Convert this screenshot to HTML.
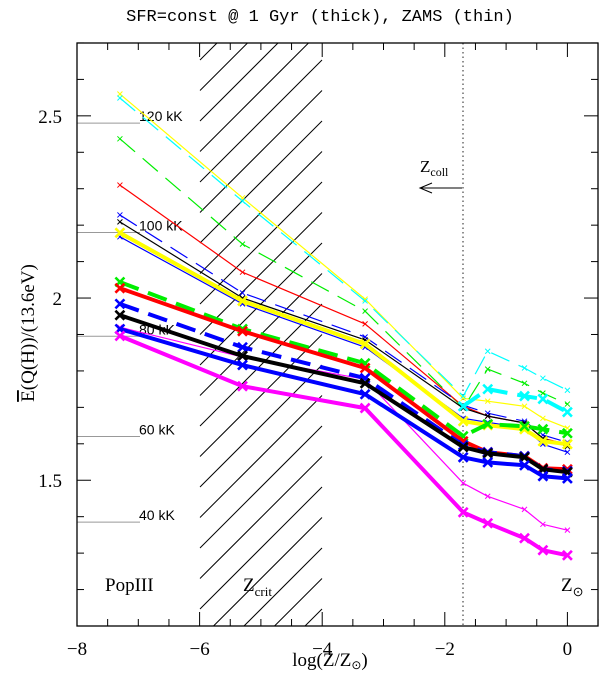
<!DOCTYPE html>
<html><head><meta charset="utf-8"><style>
html,body{margin:0;padding:0;background:#fff;overflow:hidden;width:600px;height:684px;}
svg{display:block;}
text{font-family:"Liberation Serif",serif;}
</style></head><body>
<svg id="chart" width="600" height="684" viewBox="0 0 600 684">
<defs>
<clipPath id="pclip"><rect x="77" y="43" width="521" height="583"/></clipPath>
</defs>
<text x="320" y="21" text-anchor="middle" font-size="17" style="font-family:'Liberation Mono',monospace">SFR=const @ 1 Gyr (thick), ZAMS (thin)</text>
<g id="hatch"></g>
<g id="refs"></g>
<line x1="463" y1="43" x2="463" y2="626" stroke="#555" stroke-width="1.3" stroke-dasharray="1.5,3"/>
<g id="series" clip-path="url(#pclip)"></g>
<rect x="77" y="43" width="521" height="583" fill="none" stroke="#000" stroke-width="1.3"/>
<g id="ticks"></g>
<text x="420" y="172" font-size="17">Z<tspan font-size="12" dy="4">coll</tspan></text>
<g><line x1="462" y1="188" x2="420" y2="188" stroke="#000" stroke-width="1"/><path d="M432,183 L420,188 L432,193" fill="none" stroke="#000" stroke-width="1"/></g>
<text x="105" y="591" font-size="19">PopIII</text>
<text x="243" y="591" font-size="19">Z<tspan font-size="13" dy="5">crit</tspan></text>
<text x="561" y="591" font-size="19">Z<tspan font-size="13" dy="5">⊙</tspan></text>
<text x="330" y="666" text-anchor="middle" font-size="19">log(Z/Z<tspan font-size="12" dy="3">⊙</tspan><tspan dy="-3">)</tspan></text>
<text transform="translate(34,333) rotate(-90)" text-anchor="middle" font-size="19"><tspan text-decoration="overline">E</tspan>(Q(H))/(13.6eV)</text>
</svg>
<script>
const xs = [-7.3,-5.3,-3.3,-1.7,-1.3,-0.7,-0.4,0];
const yellowThin = [2.560,2.275,1.997,1.725,1.717,1.703,1.670,1.643];
const cyanThin = [2.549,2.266,1.992,1.731,1.854,1.808,1.780,1.747];
const greenThin = [2.437,2.148,1.964,1.698,1.805,1.766,1.739,1.709];
const redThin = [2.310,2.071,1.929,1.703,1.676,1.657,1.615,1.599];
const blueDashThin = [2.228,2.014,1.893,1.706,1.684,1.662,1.624,1.604];
const blackThin = [2.209,2.000,1.885,1.698,1.676,1.657,1.615,1.593];
const blueThin = [2.168,1.984,1.865,1.670,1.659,1.643,1.599,1.577];
const magentaThin = [1.920,1.838,1.777,1.492,1.456,1.420,1.379,1.363];
const yellowThick = [2.179,1.992,1.874,1.662,1.651,1.640,1.607,1.599];
const greenThick = [2.044,1.915,1.821,1.621,1.654,1.648,1.640,1.629];
const cyanThick = [null,null,null,1.703,1.750,1.731,1.723,1.687];
const redThick = [2.027,1.909,1.808,1.607,1.577,1.566,1.533,1.530];
const blueDashThick = [1.984,1.865,1.780,1.596,1.577,1.566,1.530,1.525];
const blackThick = [1.953,1.841,1.766,1.591,1.574,1.563,1.530,1.522];
const blueThick = [1.915,1.816,1.736,1.563,1.549,1.541,1.511,1.505];
const magentaThick = [1.896,1.758,1.698,1.412,1.382,1.341,1.308,1.294];
const refLevels = [2.48,2.18,1.895,1.62,1.385];
const refLabels = ["120 kK","100 kK","80 kK","60 kK","40 kK"];
const xTicks = [-8,-6,-4,-2,0];
const yTicks = [1.5,2,2.5];

const X = v => 77 + (v + 8) * 61.3;
const Y = v => 626 - (v - 1.1) * 364.4;
const NS = "http://www.w3.org/2000/svg";
function mk(tag, attrs, parent){const e=document.createElementNS(NS,tag);for(const k in attrs)e.setAttribute(k,attrs[k]);parent.appendChild(e);return e;}

// hatch lines clipped manually to the region x 200..322, y 43..626
const hatch=document.getElementById('hatch');
const hx0=200,hx1=322,hy0=43,hy1=626;
for(let i=-5;i<24;i++){
  const c=60+i*30.5+122; // line: y = c - (x - hx0)
  let xa=hx0, ya=c;
  if(ya>hy1){xa=hx0+(c-hy1);ya=hy1;}
  let xb=hx1, yb=c-(hx1-hx0);
  if(yb<hy0){xb=hx0+(c-hy0);yb=hy0;}
  if(xa>=xb||xa>hx1||xb<hx0)continue;
  const l=mk('line',{x1:xa,y1:ya,x2:xb,y2:yb,stroke:'#000','stroke-width':1},hatch);
  
  
}
const refs=document.getElementById('refs');
refLevels.forEach((v,i)=>{
  const l=mk('line',{x1:77,y1:Y(v),x2:140,y2:Y(v),stroke:'#999','stroke-width':1},refs);
  
  
  const t=mk('text',{x:139,y:Y(v)-2,'font-size':14,style:"font-family:'Liberation Sans',sans-serif"},refs);
  t.textContent=refLabels[i];
  
  
});
const tg=document.getElementById('ticks');
for(let v=-8;v<=0.5001;v+=0.5){
  const major=Math.abs(v-Math.round(v/2)*2)<1e-6;
  const L=major?14:7;
  mk('line',{x1:X(v),y1:626,x2:X(v),y2:626-L,stroke:'#000','stroke-width':1},tg);
  mk('line',{x1:X(v),y1:43,x2:X(v),y2:43+L,stroke:'#000','stroke-width':1},tg);
}
for(let v=1.1;v<=2.7001;v+=0.1){
  const major=Math.abs(v*2-Math.round(v*2))<1e-6;
  const L=major?14:7;
  mk('line',{x1:77,y1:Y(v),x2:77+L,y2:Y(v),stroke:'#000','stroke-width':1},tg);
  mk('line',{x1:598,y1:Y(v),x2:598-L,y2:Y(v),stroke:'#000','stroke-width':1},tg);
}
xTicks.forEach(v=>{
  const t=mk('text',{x:X(v),y:655,'text-anchor':'middle','font-size':19},tg);
  t.textContent=(v<0?'\u2212':'')+Math.abs(v);
  
  
});
yTicks.forEach(v=>{
  const t=mk('text',{x:62,y:Y(v)+7,'text-anchor':'end','font-size':19},tg);
  t.textContent=String(v);
  
  
});
const sg=document.getElementById('series');
function draw(data,color,w,dash,ms,name){
  const g=mk('g',{},sg);
  
  
  let d='';let started=false;
  data.forEach((v,i)=>{if(v==null)return;d+=(started?'L':'M')+X(xs[i]).toFixed(1)+','+Y(v).toFixed(1);started=true;});
  mk('path',{d:d,fill:'none',stroke:color,'stroke-width':w,'stroke-dasharray':dash||'none','stroke-linejoin':'round'},g);
  data.forEach((v,i)=>{if(v==null)return;const cx=X(xs[i]),cy=Y(v);
    mk('path',{d:`M${cx-ms},${cy-ms}L${cx+ms},${cy+ms}M${cx-ms},${cy+ms}L${cx+ms},${cy-ms}`,stroke:color,'stroke-width':w>2?2.6:1},g);});
}
draw(yellowThin,'#ffff00',1.2,null,2.5,'yellow-zams-line');
draw(cyanThin,'#00ffff',1.2,'20,10',2.5,'cyan-zams-line');
draw(greenThin,'#00ee00',1.2,'20,10',2.5,'green-zams-line');
draw(redThin,'#ff0000',1.2,null,2.5,'red-zams-line');
draw(blueDashThin,'#0000ff',1.2,'20,10',2.5,'blue-dashed-zams-line');
draw(blackThin,'#000000',1.2,null,2.5,'black-zams-line');
draw(blueThin,'#0000ff',1.2,null,2.5,'blue-zams-line');
draw(magentaThin,'#ff00ff',1.2,null,2.5,'magenta-zams-line');
draw(yellowThick,'#ffff00',4,null,4.5,'yellow-sfr-line');
draw(greenThick,'#00ee00',4,'20,10',4.5,'green-sfr-line');
draw(cyanThick,'#00ffff',4,'20,10',4.5,'cyan-sfr-line');
draw(redThick,'#ff0000',4,null,4.5,'red-sfr-line');
draw(blueDashThick,'#0000ff',4,'20,10',4.5,'blue-dashed-sfr-line');
draw(blackThick,'#000000',4,null,4.5,'black-sfr-line');
draw(blueThick,'#0000ff',4,null,4.5,'blue-sfr-line');
draw(magentaThick,'#ff00ff',4,null,4.5,'magenta-sfr-line');
</script>
</body></html>
